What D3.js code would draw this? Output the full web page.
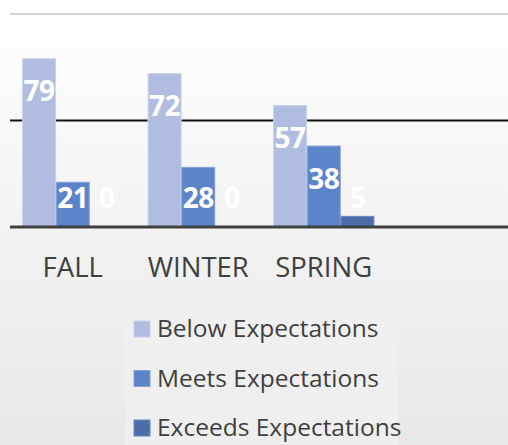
<!DOCTYPE html>
<html><head><meta charset="utf-8">
<script src="https://cdn.jsdelivr.net/npm/d3@7"></script>
<style>html,body{margin:0;padding:0;overflow:hidden;}svg{display:block;}</style>
</head><body>
<script>
const categories = ["FALL", "WINTER", "SPRING"];
const seriesNames = ["Below Expectations", "Meets Expectations", "Exceeds Expectations"];
const below = [79, 72, 57];
const meets = [21, 28, 38];
const exceeds = [0, 0, 5];
const gridTicks = [0, 50, 100];

const series = [below, meets, exceeds];
const fills = ["#b0bde0", "#5b84c9", "#4a6da9"];
const strokes = ["#c9d3ec", "#86a2d8", "#6c89bd"];

const W = 508, H = 445;
const svg = d3.select("body").append("svg").attr("width", W).attr("height", H);
const defs = svg.append("defs");
const g = defs.append("linearGradient").attr("id", "bg").attr("x1", 0).attr("y1", 0).attr("x2", 0).attr("y2", 1);
g.append("stop").attr("offset", "0%").attr("stop-color", "#ffffff");
g.append("stop").attr("offset", "100%").attr("stop-color", "#e8e8e8");
svg.append("rect").attr("width", W).attr("height", H).attr("fill", "url(#bg)");

const y = d3.scaleLinear().domain([0, 100]).range([227, 14]);
const x0 = d3.scaleBand().domain(categories).range([10, 386.5]).paddingInner(0.19).paddingOuter(0.095);
const x1 = d3.scaleBand().domain(d3.range(series.length)).range([0, x0.bandwidth()]).padding(0.02);

// gridlines
svg.append("line").attr("x1", 10).attr("x2", W).attr("y1", y(gridTicks[2])).attr("y2", y(gridTicks[2]))
  .attr("stroke", "#c3c3c3").attr("stroke-width", 1.6);
svg.append("line").attr("x1", 10).attr("x2", W).attr("y1", y(gridTicks[1])).attr("y2", y(gridTicks[1]))
  .attr("stroke", "#111").attr("stroke-width", 2);

// bars
const groups = svg.selectAll("g.cat").data(categories).join("g")
  .attr("transform", d => `translate(${x0(d)},0)`);
series.forEach((vals, si) => {
  groups.append("rect")
    .attr("x", x1(si)).attr("width", x1.bandwidth())
    .attr("y", (d, i) => y(vals[i])).attr("height", (d, i) => y(0) - y(vals[i]))
    .attr("fill", fills[si]).attr("stroke", strokes[si]).attr("stroke-width", 1);
});

// baseline
svg.append("line").attr("x1", 10).attr("x2", W).attr("y1", y(gridTicks[0])).attr("y2", y(gridTicks[0]))
  .attr("stroke", "#404040").attr("stroke-width", 3);

// labels
series.forEach((vals, si) => {
  groups.append("text")
    .attr("x", x1(si) + x1.bandwidth() / 2)
    .attr("y", (d, i) => Math.min(y(vals[i]) + 42.5, y(0) - 19.5))
    .attr("text-anchor", "middle")
    .attr("font-family", "'Open Sans', sans-serif").attr("font-weight", 700)
    .attr("font-size", 28).attr("letter-spacing", -0.5).attr("fill", "#ffffff")
    .text((d, i) => vals[i]);
});

// x axis labels
svg.selectAll("text.cat").data(categories).join("text")
  .attr("x", d => x0(d) + x0.bandwidth() / 2).attr("y", 277)
  .attr("text-anchor", "middle")
  .attr("font-family", "'Open Sans', sans-serif").attr("font-size", 27.5)
  .attr("fill", "#404040").text(d => d);

// legend
svg.append("rect").attr("x", 125).attr("y", 303).attr("width", 273).attr("height", 142)
  .attr("fill", "#f1f1f1").attr("opacity", 0.7);
const leg = svg.selectAll("g.leg").data(seriesNames).join("g")
  .attr("transform", (d, i) => `translate(134,${321 + i * 49.5})`);
leg.append("rect").attr("width", 16).attr("height", 16)
  .attr("fill", (d, i) => fills[i]).attr("stroke", (d, i) => strokes[i]).attr("stroke-width", 1);
leg.append("text").attr("x", 23).attr("y", 16)
  .attr("font-family", "'Open Sans', sans-serif").attr("font-size", 24.5)
  .attr("fill", "#404040").text(d => d);
</script>
</body></html>
